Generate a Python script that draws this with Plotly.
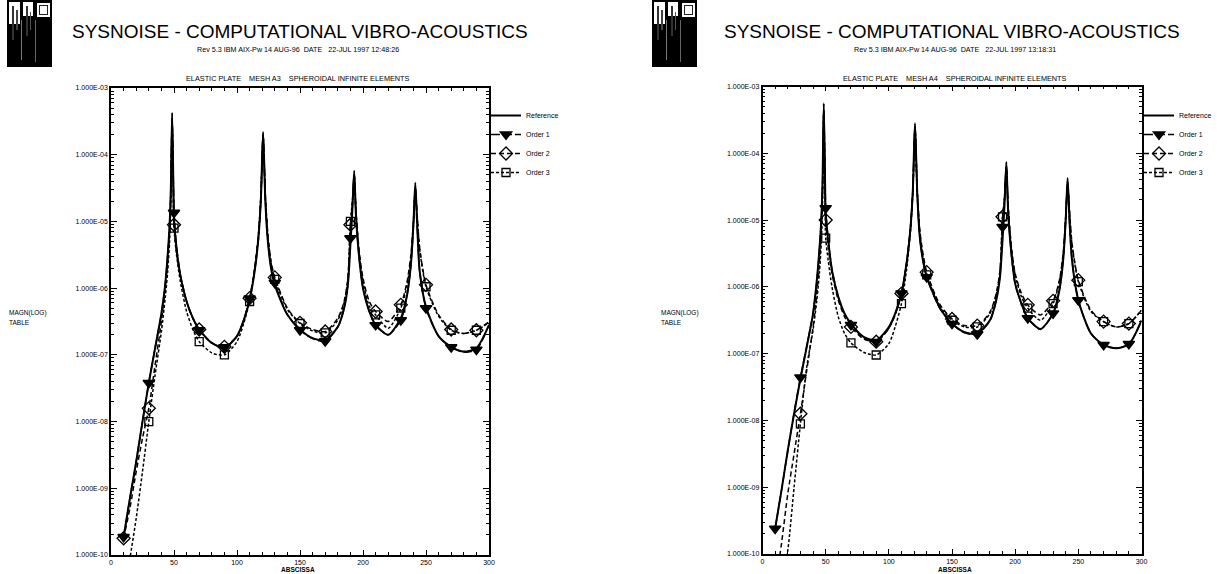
import plotly.graph_objects as go

W, H = 1217, 574

# ---------------- data ----------------
X = [10, 15, 20, 25, 30, 35, 40, 43, 45, 46.5, 47.5, 48.5, 49.5, 50, 52, 55, 60, 65, 70, 80, 90,
     100, 105, 110, 114, 117, 119, 120.7, 122.5, 124.5, 127, 130, 140, 150, 160, 170,
     180, 185, 188, 190, 191.5, 193, 194.5, 197, 200, 205, 210, 220, 230,
     235, 238, 240, 241.5, 243, 245, 250, 260, 270, 280, 290, 300]

MARK_X = [10, 30, 50, 70, 90, 110, 130, 150, 170, 190, 210, 230, 250, 270, 290]

# Left panel : MESH A3
A3_REFERENCE = [1.86e-10, 7.08e-10, 2.51e-9, 1.0e-8, 3.8e-8, 1.26e-7, 4.17e-7, 1.12e-6, 3.16e-6, 8.91e-6,
                3.16e-5, 4.27e-4, 3.55e-5, 1.12e-5, 3.98e-6, 1.58e-6, 6.31e-7, 3.55e-7, 2.4e-7, 1.51e-7, 1.26e-7,
                1.91e-7, 3.16e-7, 6.61e-7, 1.78e-6, 5.62e-6, 2.24e-5, 2.19e-4, 2.0e-5, 5.01e-6, 2.0e-6, 1.12e-6,
                3.98e-7, 2.4e-7, 1.78e-7, 1.66e-7, 2.63e-7, 5.01e-7, 1.12e-6, 4.47e-6, 1.41e-5, 5.75e-5, 1.12e-5,
                2.82e-6, 1.0e-6, 4.47e-7, 2.82e-7, 2.0e-7, 3.55e-7, 7.94e-7, 2.24e-6, 8.91e-6, 3.8e-5, 8.91e-6,
                1.78e-6, 5.25e-7, 1.91e-7, 1.32e-7, 1.12e-7, 1.26e-7, 2.82e-7]
A3_ORDER1 = [1.86e-10, 7.0e-10, 2.5e-9, 1.0e-8, 3.8e-8, 1.26e-7, 4.1e-7, 1.1e-6, 3.1e-6, 8.5e-6,
             2.9e-5, 3.55e-4, 4.0e-5, 1.35e-5, 4.2e-6, 1.6e-6, 6.3e-7, 3.5e-7, 2.35e-7, 1.5e-7, 1.3e-7,
             1.9e-7, 3.2e-7, 7.0e-7, 1.8e-6, 5.5e-6, 2.2e-5, 2.0e-4, 2.1e-5, 5.2e-6, 2.1e-6, 1.2e-6,
             4.0e-7, 2.35e-7, 1.75e-7, 1.6e-7, 2.6e-7, 5.0e-7, 1.15e-6, 5.6e-6, 1.6e-5, 5.0e-5, 1.1e-5,
             2.8e-6, 1.0e-6, 4.5e-7, 2.8e-7, 2.0e-7, 3.3e-7, 7.9e-7, 2.2e-6, 8.5e-6, 3.2e-5, 8.5e-6,
             1.8e-6, 5.0e-7, 1.9e-7, 1.3e-7, 1.1e-7, 1.2e-7, 2.8e-7]
A3_ORDER2 = [1.78e-10, 5.01e-10, 1.78e-9, 5.62e-9, 1.58e-8, 7.08e-8, 3.16e-7, 1.0e-6, 2.51e-6, 7.08e-6,
             2.51e-5, 3.55e-4, 3.16e-5, 8.91e-6, 3.55e-6, 1.58e-6, 6.31e-7, 3.55e-7, 2.4e-7, 1.51e-7, 1.32e-7,
             1.91e-7, 3.16e-7, 7.08e-7, 2.0e-6, 6.31e-6, 2.51e-5, 2.0e-4, 2.51e-5, 6.31e-6, 2.51e-6, 1.45e-6,
             5.01e-7, 3.02e-7, 2.4e-7, 2.24e-7, 3.55e-7, 6.31e-7, 1.41e-6, 8.91e-6, 1.78e-5, 5.01e-5, 1.41e-5,
             3.55e-6, 1.41e-6, 6.31e-7, 4.47e-7, 3.16e-7, 5.62e-7, 1.26e-6, 3.16e-6, 1.0e-5, 3.16e-5, 1.26e-5,
             3.98e-6, 1.12e-6, 3.98e-7, 2.4e-7, 2.09e-7, 2.34e-7, 3.16e-7]
A3_ORDER3 = [2.51e-11, 8.91e-11, 3.55e-10, 1.78e-9, 1.0e-8, 5.01e-8, 2.24e-7, 7.08e-7, 1.78e-6, 5.01e-6,
             2.0e-5, 3.16e-4, 2.82e-5, 7.94e-6, 3.16e-6, 1.26e-6, 4.47e-7, 2.4e-7, 1.58e-7, 1.07e-7, 1.0e-7,
             1.58e-7, 2.82e-7, 6.31e-7, 1.91e-6, 6.31e-6, 2.4e-5, 1.91e-4, 2.4e-5, 6.03e-6, 2.4e-6, 1.35e-6,
             4.79e-7, 2.95e-7, 2.29e-7, 2.14e-7, 3.31e-7, 6.03e-7, 1.32e-6, 1.0e-5, 1.91e-5, 4.79e-5, 1.32e-5,
             3.16e-6, 1.26e-6, 5.37e-7, 3.98e-7, 2.51e-7, 5.01e-7, 1.12e-6, 2.82e-6, 8.91e-6, 2.82e-5, 1.2e-5,
             3.8e-6, 1.05e-6, 3.8e-7, 2.34e-7, 2.09e-7, 2.34e-7, 3.02e-7]

# Right panel : MESH A4
A4_REFERENCE = [2.4e-10, 8.91e-10, 3.55e-9, 1.26e-8, 4.17e-8, 1.26e-7, 3.98e-7, 1.26e-6, 3.55e-6, 1.0e-5,
                3.55e-5, 5.62e-4, 3.98e-5, 1.26e-5, 5.01e-6, 1.78e-6, 7.08e-7, 3.98e-7, 2.82e-7, 1.78e-7, 1.58e-7,
                2.51e-7, 3.98e-7, 7.94e-7, 2.24e-6, 7.08e-6, 2.82e-5, 2.82e-4, 2.51e-5, 5.62e-6, 2.51e-6, 1.41e-6,
                5.01e-7, 2.82e-7, 2.09e-7, 2.0e-7, 3.16e-7, 6.31e-7, 1.41e-6, 5.01e-6, 1.58e-5, 7.41e-5, 1.26e-5,
                3.16e-6, 1.12e-6, 5.62e-7, 3.39e-7, 2.34e-7, 3.98e-7, 8.91e-7, 2.51e-6, 1.0e-5, 4.27e-5, 1.0e-5,
                2.51e-6, 6.31e-7, 2.0e-7, 1.35e-7, 1.2e-7, 1.38e-7, 3.16e-7]
A4_ORDER1 = [2.4e-10, 8.9e-10, 3.5e-9, 1.3e-8, 4.4e-8, 1.3e-7, 4.0e-7, 1.2e-6, 3.4e-6, 9.5e-6,
             3.2e-5, 4.5e-4, 4.5e-5, 1.51e-5, 5.2e-6, 1.8e-6, 7.0e-7, 3.9e-7, 2.7e-7, 1.75e-7, 1.5e-7,
             2.4e-7, 3.9e-7, 8.0e-7, 2.2e-6, 7.0e-6, 2.8e-5, 2.6e-4, 2.4e-5, 5.5e-6, 2.5e-6, 1.4e-6,
             4.9e-7, 2.8e-7, 2.05e-7, 1.95e-7, 3.1e-7, 6.3e-7, 1.5e-6, 7.9e-6, 2.0e-5, 6.5e-5, 1.2e-5,
             3.1e-6, 1.1e-6, 5.5e-7, 3.4e-7, 2.3e-7, 4.0e-7, 9.0e-7, 2.5e-6, 1.0e-5, 3.8e-5, 9.5e-6,
             2.5e-6, 6.3e-7, 2.0e-7, 1.35e-7, 1.2e-7, 1.4e-7, 3.1e-7]
A4_ORDER2 = [3.16e-11, 1.41e-10, 7.94e-10, 3.16e-9, 1.26e-8, 5.62e-8, 2.51e-7, 7.94e-7, 2.24e-6, 6.31e-6,
             2.51e-5, 4.47e-4, 3.55e-5, 1.0e-5, 3.98e-6, 1.58e-6, 6.31e-7, 3.55e-7, 2.51e-7, 1.66e-7, 1.51e-7,
             2.4e-7, 3.8e-7, 7.94e-7, 2.24e-6, 7.59e-6, 2.82e-5, 2.51e-4, 2.82e-5, 7.08e-6, 3.16e-6, 1.66e-6,
             5.62e-7, 3.31e-7, 2.63e-7, 2.63e-7, 4.17e-7, 7.94e-7, 1.78e-6, 1.12e-5, 2.0e-5, 6.31e-5, 1.58e-5,
             3.98e-6, 1.58e-6, 7.94e-7, 5.37e-7, 3.8e-7, 6.17e-7, 1.26e-6, 3.16e-6, 1.12e-5, 3.55e-5, 1.41e-5,
             4.47e-6, 1.26e-6, 4.47e-7, 3.02e-7, 2.51e-7, 2.82e-7, 4.47e-7]
A4_ORDER3 = [1.0e-11, 3.16e-11, 1.12e-10, 1.0e-9, 8.91e-9, 6.31e-8, 2.24e-7, 6.31e-7, 1.58e-6, 4.47e-6,
             1.78e-5, 3.98e-4, 2.51e-5, 5.37e-6, 2.51e-6, 1.0e-6, 3.55e-7, 2.0e-7, 1.45e-7, 1.05e-7, 9.55e-8,
             1.41e-7, 2.51e-7, 5.62e-7, 1.78e-6, 6.31e-6, 2.51e-5, 2.4e-4, 2.63e-5, 6.61e-6, 2.82e-6, 1.51e-6,
             5.25e-7, 3.16e-7, 2.51e-7, 2.51e-7, 3.98e-7, 7.59e-7, 1.66e-6, 1.12e-5, 2.0e-5, 6.03e-5, 1.51e-5,
             3.8e-6, 1.51e-6, 7.08e-7, 4.79e-7, 3.16e-7, 5.62e-7, 1.2e-6, 3.02e-6, 1.07e-5, 3.39e-5, 1.35e-5,
             4.27e-6, 1.2e-6, 4.27e-7, 3.02e-7, 2.51e-7, 2.82e-7, 4.47e-7]

SERIES = ["Reference", "Order 1", "Order 2", "Order 3"]
Y_TICKS = [1e-10, 1e-9, 1e-8, 1e-7, 1e-6, 1e-5, 1e-4, 1e-3]
Y_TICK_TEXT = ["1.000E-10", "1.000E-09", "1.000E-08", "1.000E-07",
               "1.000E-06", "1.000E-05", "1.000E-04", "1.000E-03"]
Y_MINOR = [m * d for d in Y_TICKS[:-1] for m in range(2, 10)]

TITLE = "SYSNOISE - COMPUTATIONAL VIBRO-ACOUSTICS"
SUB_A3 = "Rev 5.3 IBM AIX-Pw 14 AUG-96  DATE   22-JUL 1997 12:48:26"
SUB_A4 = "Rev 5.3 IBM AIX-Pw 14 AUG-96  DATE   22-JUL 1997 13:18:31"
CAP_A3 = "ELASTIC PLATE    MESH A3    SPHEROIDAL INFINITE ELEMENTS"
CAP_A4 = "ELASTIC PLATE    MESH A4    SPHEROIDAL INFINITE ELEMENTS"

# ---------------- styles ----------------
FONT = "Liberation Sans, Arial, sans-serif"
STYLE = {
    "Reference": dict(dash="solid", width=2.0, symbol=None, size=0),
    "Order 1": dict(dash="9px,3px", width=1.5, symbol="triangle-down", size=10),
    "Order 2": dict(dash="5px,3px", width=1.5, symbol="diamond-open", size=10),
    "Order 3": dict(dash="3px,2px", width=1.5, symbol="square-open", size=8),
}


def fx(p):
    return p / W


def fy(p):
    return 1 - p / H


fig = go.Figure()

panels = [
    ("x", "y", "legend", {"Reference": A3_REFERENCE, "Order 1": A3_ORDER1,
                          "Order 2": A3_ORDER2, "Order 3": A3_ORDER3}),
    ("x2", "y2", "legend2", {"Reference": A4_REFERENCE, "Order 1": A4_ORDER1,
                             "Order 2": A4_ORDER2, "Order 3": A4_ORDER3}),
]

for xa, ya, leg, data in panels:
    for name in SERIES:
        st = STYLE[name]
        ys = data[name]
        fig.add_trace(go.Scatter(x=X, y=ys, mode="lines", xaxis=xa, yaxis=ya,
                                 line=dict(color="black", width=st["width"], dash=st["dash"],
                                           shape="spline", smoothing=0.7),
                                 showlegend=False, hoverinfo="skip"))
        if st["symbol"]:
            mx = [x for x in X if x in MARK_X]
            my = [v for x, v in zip(X, ys) if x in MARK_X]
            fig.add_trace(go.Scatter(x=mx, y=my, mode="markers", xaxis=xa, yaxis=ya,
                                     marker=dict(symbol=st["symbol"], size=st["size"], color="black",
                                                 line=dict(color="black", width=1.3)),
                                     showlegend=False, hoverinfo="skip"))
        # legend entry
        fig.add_trace(go.Scatter(
            x=[None], y=[None], xaxis=xa, yaxis=ya, name=name, legend=leg,
            mode="lines+markers" if st["symbol"] else "lines",
            line=dict(color="black", width=st["width"], dash=st["dash"]),
            marker=dict(symbol=st["symbol"] or "circle", size=st["size"], color="black",
                        line=dict(color="black", width=1.3))))


def xaxis_cfg(domain, anchor):
    return dict(domain=domain, anchor=anchor, range=[0, 300], tick0=0, dtick=50,
                ticks="inside", ticklen=5, tickwidth=1, tickcolor="black",
                showline=True, linecolor="black", linewidth=1.5, mirror="ticks",
                showgrid=False, zeroline=False,
                tickfont=dict(size=7, family=FONT, color="black"),
                minor=dict(tick0=0, dtick=10, ticks="inside", ticklen=3, tickwidth=1,
                           tickcolor="black", showgrid=False))


def yaxis_cfg(domain, anchor):
    return dict(domain=domain, anchor=anchor, type="log", range=[-10, -3],
                tickmode="array", tickvals=Y_TICKS, ticktext=Y_TICK_TEXT,
                ticks="inside", ticklen=6, tickwidth=1, tickcolor="black",
                showline=True, linecolor="black", linewidth=1.5, mirror="ticks",
                showgrid=False, zeroline=False,
                tickfont=dict(size=7, family=FONT, color="black"),
                minor=dict(tickmode="array", tickvals=Y_MINOR, ticks="inside", ticklen=3,
                           tickwidth=1, tickcolor="black", showgrid=False))


legend_common = dict(xanchor="left", yanchor="top", bgcolor="rgba(0,0,0,0)", borderwidth=0,
                     font=dict(size=7, family=FONT, color="black"), itemwidth=30,
                     tracegroupgap=0, itemclick=False, itemdoubleclick=False)

fig.update_layout(
    width=W, height=H, margin=dict(l=0, r=0, t=0, b=0, autoexpand=False),
    paper_bgcolor="white", plot_bgcolor="white",
    xaxis=xaxis_cfg([fx(111), fx(489)], "y"),
    yaxis=yaxis_cfg([fy(555), fy(88)], "x"),
    xaxis2=xaxis_cfg([fx(762.5), fx(1141.5)], "y2"),
    yaxis2=yaxis_cfg([fy(554), fy(86.5)], "x2"),
    legend=dict(x=fx(486), y=fy(101), **legend_common),
    legend2=dict(x=fx(1139), y=fy(101), **legend_common),
)

annotations = []


def txt(text, x, y, size, xanchor="left", bold=False):
    annotations.append(dict(text=("<b>%s</b>" % text) if bold else text, x=fx(x), y=fy(y),
                            xref="paper", yref="paper", xanchor=xanchor, yanchor="middle",
                            showarrow=False, font=dict(size=size, family=FONT, color="black")))


for off, mid, sub, cap, ylab_x in [
        (0, 298, SUB_A3, CAP_A3, 7),
        (652, 955, SUB_A4, CAP_A4, 659)]:
    txt(TITLE, 70 + off, 32, 19)
    txt(sub, mid, 50, 7.2, xanchor="center")
    txt(cap, mid, 78, 7.3, xanchor="center")
    txt("MAGN(LOG)", ylab_x, 313, 6.5)
    txt("TABLE", ylab_x, 322, 6.5)
    txt("ABSCISSA", mid, 569, 6.5, xanchor="center", bold=True)

fig.update_layout(annotations=annotations)

# logo blocks (black panel with white textured areas)
shapes = []
for lx in (7, 652):
    def rect(x0, y0, x1, y1, color):
        shapes.append(dict(type="rect", xref="paper", yref="paper",
                           x0=fx(lx + x0), x1=fx(lx + x1), y0=fy(y1), y1=fy(y0),
                           fillcolor=color, line=dict(width=0), layer="above"))
    rect(0, 0, 45, 67, "black")
    rect(2, 2, 13, 24, "white")
    rect(16, 2, 26, 16, "white")
    rect(30, 3, 43, 17, "white")
    rect(32, 5, 41, 15, "#222")
    rect(33, 6, 40, 14, "white")
    rect(5, 6, 7, 40, "#333")
    rect(9, 10, 11, 30, "#444")
    rect(19, 6, 21, 36, "#333")
    rect(23, 12, 24, 30, "#555")
    rect(14, 20, 15, 60, "#777")
    rect(28, 20, 29, 62, "#666")
fig.update_layout(shapes=shapes)

fig.write_html("out.html")
